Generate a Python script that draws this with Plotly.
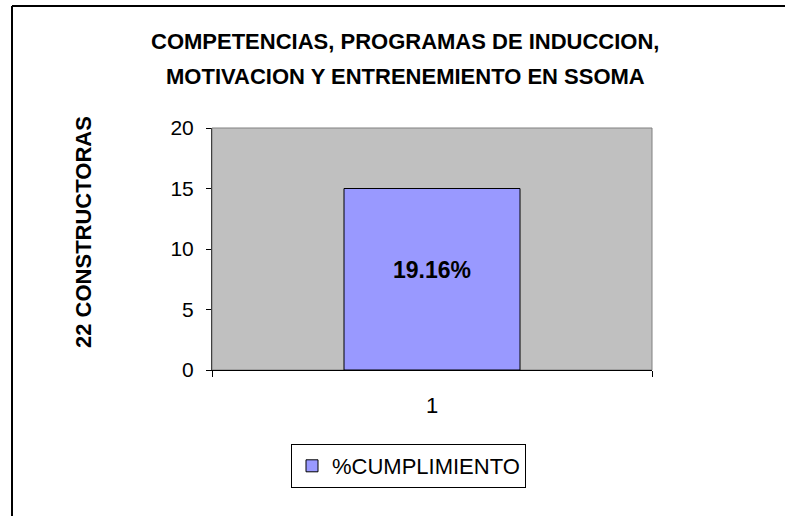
import plotly.graph_objects as go

categories = ["1"]
values = [15]
labels = ["19.16%"]
series_name = "%CUMPLIMIENTO"
title_lines = ["COMPETENCIAS, PROGRAMAS DE INDUCCION,", "MOTIVACION Y ENTRENEMIENTO EN SSOMA"]
y_title = "22 CONSTRUCTORAS"
y_ticks = [0, 5, 10, 15, 20]

FONT = "Liberation Sans, Arial, sans-serif"

# plot-area pixel geometry (used only to convert pixel positions to paper coords)
L, T, W, H = 212, 128, 440, 242
def px(x):
    return (x - L) / W
def py(y):
    return (T + H - y) / H

fig = go.Figure()
fig.add_trace(go.Bar(
    x=categories, y=values, name=series_name,
    marker=dict(color="#9999FF", line=dict(color="black", width=1)),
    width=0.4, showlegend=True,
))

annotations = [
    dict(text=title_lines[0], xref="paper", yref="paper", x=px(405), y=py(41),
         xanchor="center", yanchor="middle", showarrow=False,
         font=dict(family=FONT, size=22, color="black", weight="bold")),
    dict(text=title_lines[1], xref="paper", yref="paper", x=px(405), y=py(76),
         xanchor="center", yanchor="middle", showarrow=False,
         font=dict(family=FONT, size=22, color="black", weight="bold")),
    dict(text=y_title, xref="paper", yref="paper", x=px(83), y=py(232),
         xanchor="center", yanchor="middle", textangle=-90, showarrow=False,
         font=dict(family=FONT, size=22, color="black", weight="bold")),
]
for i, (v, lab) in enumerate(zip(values, labels)):
    annotations.append(dict(text=lab, x=i, y=v / 2, xref="x", yref="y", yshift=9,
                            showarrow=False, xanchor="center", yanchor="middle",
                            font=dict(family=FONT, size=23, color="black", weight="bold")))

fig.update_layout(
    width=785, height=516,
    margin=dict(l=L, r=785 - L - W, t=T, b=516 - T - H),
    paper_bgcolor="white", plot_bgcolor="#C0C0C0",
    showlegend=True,
    legend=dict(x=px(291), xanchor="left", y=py(444), yanchor="top",
                bordercolor="black", borderwidth=1, bgcolor="white",
                font=dict(family=FONT, size=22, color="black"),
                itemwidth=30),
    xaxis=dict(type="category", range=[-0.5, 0.5], showgrid=False,
               showline=True, linecolor="black", linewidth=1,
               ticks="outside", tickson="boundaries", ticklen=6, tickcolor="black",
               ticklabelstandoff=16,
               tickfont=dict(family=FONT, size=22, color="black")),
    yaxis=dict(range=[0, 20], tickvals=y_ticks, showgrid=False, zeroline=False,
               showline=True, linecolor="#404040", linewidth=1,
               ticks="outside", ticklen=5, tickcolor="black",
               ticklabelstandoff=8,
               tickfont=dict(family=FONT, size=21, color="black")),
    annotations=annotations,
    shapes=[
        dict(type="rect", xref="paper", yref="paper", x0=0, x1=1, y0=0, y1=1,
             line=dict(color="#808080", width=1), layer="below"),
        dict(type="line", xref="paper", yref="paper", x0=px(12), x1=px(12),
             y0=py(6), y1=py(520), line=dict(color="black", width=2)),
        dict(type="line", xref="paper", yref="paper", x0=px(12), x1=px(790),
             y0=py(6), y1=py(6), line=dict(color="black", width=2)),
    ],
)

fig.write_html("out.html", config={"displayModeBar": False},
               post_script="document.body.style.margin='0';")
